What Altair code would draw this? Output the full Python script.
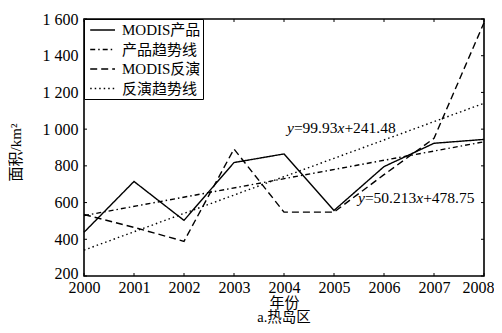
import altair as alt
import pandas as pd

# ---- data ----
years = [2000, 2001, 2002, 2003, 2004, 2005, 2006, 2007, 2008]
modis_product = [438, 715, 503, 818, 865, 557, 796, 923, 944]
modis_inversion = [535, 465, 389, 892, 548, 548, 752, 950, 1580]
trend_years = [2000, 2008]
product_trend = [529, 931]
inversion_trend = [341, 1141]
series_names = ["MODIS产品", "产品趋势线", "MODIS反演", "反演趋势线"]
y_ticks = [200, 400, 600, 800, 1000, 1200, 1400, 1600]
eq_inversion = ["y", "=99.93", "x", "+241.48"]
eq_product = ["y", "=50.213", "x", "+478.75"]
y_title = "面积/km²"
x_title = "年份"
chart_title = "a.热岛区"

W, H = 400, 257
FONT = "'Liberation Serif', 'Times New Roman', 'Noto Sans CJK SC', serif"

rows = []
for yr, v in zip(years, modis_product):
    rows.append({"year": yr, "area": v, "series": series_names[0]})
for yr, v in zip(trend_years, product_trend):
    rows.append({"year": yr, "area": v, "series": series_names[1]})
for yr, v in zip(years, modis_inversion):
    rows.append({"year": yr, "area": v, "series": series_names[2]})
for yr, v in zip(trend_years, inversion_trend):
    rows.append({"year": yr, "area": v, "series": series_names[3]})
df = pd.DataFrame(rows)

xs = alt.Scale(domain=[2000, 2008], nice=False)
ys = alt.Scale(domain=[200, 1600], nice=False)

label_expr = ("datum.value >= 1000 ? floor(datum.value / 1000) + ' ' + "
              "format(datum.value % 1000, '03d') : format(datum.value, 'd')")

x_axis = alt.Axis(values=years, format="d", title=x_title, labelFlush=False,
                  labelPadding=3, titleY=26, titleBaseline="middle",
                  labelOffset={"condition": {"test": "datum.value == 2008", "value": -6},
                               "value": 0},
                  titleFontSize=15, titleFontWeight="normal")
y_axis = alt.Axis(values=y_ticks, labelExpr=label_expr, title=y_title,
                  labelPadding=6, titleX=-69, titleY=133, titleAngle=-90,
                  titleAlign="center", titleBaseline="middle",
                  labelOffset={"condition": {"test": "datum.value == 200", "value": -3},
                               "value": 0},
                  titleFontSize=15, titleFontWeight="normal")

lines = alt.Chart(df).mark_line(color="black", strokeWidth=1.4).encode(
    x=alt.X("year:Q", scale=xs, axis=x_axis),
    y=alt.Y("area:Q", scale=ys, axis=y_axis),
    strokeDash=alt.StrokeDash(
        "series:N",
        scale=alt.Scale(domain=series_names,
                        range=[[1, 0], [5, 3, 1.5, 3], [7, 4], [1.5, 3]]),
        legend=alt.Legend(title=None, orient="top-left", offset=0, padding=2,
                          strokeColor="black", fillColor="white",
                          symbolType="M-0.6,0L2.5,0", symbolSize=256,
                          symbolStrokeWidth=1.3, symbolStrokeColor="black",
                          labelFont=FONT, labelFontSize=15, labelColor="black",
                          labelLimit=300, rowPadding=2.5, labelOffset=18)),
)

# inward ticks on all four sides
xt = pd.DataFrame({"year": years})
yt = pd.DataFrame({"area": y_ticks})
tick_x_bottom = alt.Chart(xt).mark_rule(color="black", strokeWidth=1).encode(
    x=alt.X("year:Q", scale=xs, axis=x_axis), y=alt.value(H), y2=alt.value(H - 3))
tick_x_top = alt.Chart(xt).mark_rule(color="black", strokeWidth=1).encode(
    x=alt.X("year:Q", scale=xs, axis=x_axis), y=alt.value(0), y2=alt.value(3))
tick_y_left = alt.Chart(yt).mark_rule(color="black", strokeWidth=1).encode(
    y=alt.Y("area:Q", scale=ys, axis=y_axis), x=alt.value(0), x2=alt.value(3))
tick_y_right = alt.Chart(yt).mark_rule(color="black", strokeWidth=1).encode(
    y=alt.Y("area:Q", scale=ys, axis=y_axis), x=alt.value(W - 3), x2=alt.value(W))

# equation labels with italic variables
widths = {"y": 0.444, "x": 0.444, "=": 0.564, "+": 0.564, ".": 0.25}
FS = 15.5


def seg_width(s):
    return sum(widths.get(c, 0.5) for c in s) * FS


def equation(parts, x0, y0):
    layers = []
    x = x0
    for p in parts:
        italic = p in ("x", "y")
        layers.append(
            alt.Chart(pd.DataFrame({"t": [p]})).mark_text(
                align="left", baseline="alphabetic", font=FONT, fontSize=FS,
                fontStyle="italic" if italic else "normal", color="black"
            ).encode(text="t:N", x=alt.value(x), y=alt.value(y0))
        )
        x += seg_width(p)
    return layers


eq_layers = equation(eq_inversion, 203, 114) + equation(eq_product, 274, 184)

caption = alt.Chart(pd.DataFrame({"t": [chart_title]})).mark_text(
    align="center", baseline="middle", font=FONT, fontSize=14.5, color="black"
).encode(text="t:N", x=alt.value(W / 2), y=alt.value(299))

chart = alt.layer(
    lines, tick_x_bottom, tick_x_top, tick_y_left, tick_y_right, *eq_layers, caption
).properties(
    width=W, height=H,
    autosize=alt.AutoSizeParams(type="none"),
    padding={"left": 76, "top": 11, "right": 10, "bottom": 49},
).configure_view(
    stroke="black", strokeWidth=1.6
).configure_axis(
    domain=False, ticks=False, grid=False,
    labelFont=FONT, labelFontSize=16, labelColor="black",
    titleFont=FONT, titleColor="black",
)

chart.save("out.html", embed_options={"renderer": "svg", "actions": False})
